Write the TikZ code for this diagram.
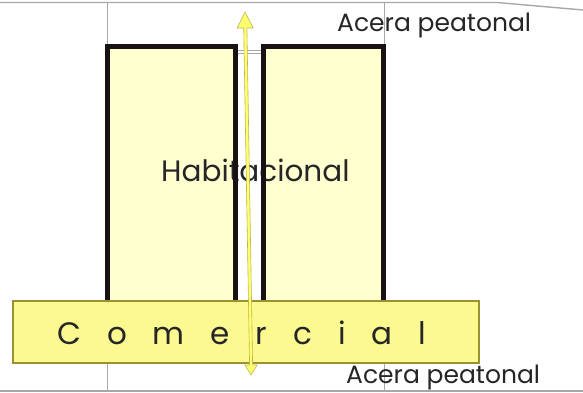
\documentclass[tikz,border=0pt]{standalone}
\usepackage{fontspec}
\setmainfont{Poppins}
\usetikzlibrary{calc}
\definecolor{bldfill}{HTML}{FFFFD0}
\definecolor{bldline}{HTML}{1A1212}
\definecolor{comfill}{HTML}{FBF990}
\definecolor{comline}{HTML}{9A9232}
\definecolor{arrfill}{HTML}{FFFF70}
\definecolor{arrline}{HTML}{BDB64A}
\definecolor{gridgray}{HTML}{A8A8A8}
\tikzset{
  building/.style={fill=bldfill, draw=none},
  bldborder/.style={draw=bldline, line width=5pt, line join=miter},
  guideline/.style={draw=gridgray, line width=0.6pt},
  edgeline/.style={draw=gridgray, line width=1.4pt},
  comercio/.style={fill=comfill, draw=comline, line width=1.8pt, minimum width=466pt, minimum height=62pt, inner sep=0pt},
  label/.style={font=\fontsize{25}{30}\selectfont, inner sep=0pt, text=black!85},
}
\begin{document}
\begin{tikzpicture}[x=1pt,y=-1pt]
\useasboundingbox (0,0) rectangle (583,393);
\fill[white] (0,0) rectangle (583,393);
% site lines
\draw[edgeline] (0,2.5) -- (497,2.5) -- (583,10);
\draw[edgeline] (0,391) -- (583,391);
\draw[guideline] (107,2.5) rectangle (384,391);
\draw[guideline] (238,50) -- (261,50);
\draw[guideline] (238,53.5) -- (261,53.5);
% buildings
\fill[building] (107.5,46.5) rectangle (235.5,310);
\fill[building] (263.5,47) rectangle (383.5,310);
\node[label, font=\fontsize{29.5}{34}\selectfont, anchor=base west] (hab) at (161,181) {Habitacional};
\draw[bldborder] (107.5,310) -- (107.5,46.5) -- (235.5,46.5) -- (235.5,310);
\draw[bldborder] (263.5,310) -- (263.5,47) -- (383.5,47) -- (383.5,310);
% commercial podium
\node[comercio] (com) at (246,332) {};
\node[label, font=\fontsize{31}{36}\selectfont\addfontfeature{LetterSpace=57}, anchor=base west] (comtxt) at (57,344) {C o m e r c i a l};
% sidewalk labels
\node[label, anchor=base west] (acera1) at (337,32) {Acera peatonal};
\node[label, anchor=base west] (acera2) at (346,383) {Acera peatonal};
% double arrow
\coordinate (atop) at (245,12);
\coordinate (abot) at (251,375);
\filldraw[fill=arrfill, draw=arrline, line width=0.6pt, line join=miter]
  (atop) -- ($(atop)+(8.2,16)$) -- ($(atop)+(1.9,16)$)
  -- ($(abot)+(1.6,-10)$) -- ($(abot)+(6.2,-10)$) -- (abot)
  -- ($(abot)+(-6,-10)$) -- ($(abot)+(-1.4,-10)$)
  -- ($(atop)+(-1.3,16)$) -- ($(atop)+(-7.8,16)$) -- cycle;
\end{tikzpicture}
\end{document}
